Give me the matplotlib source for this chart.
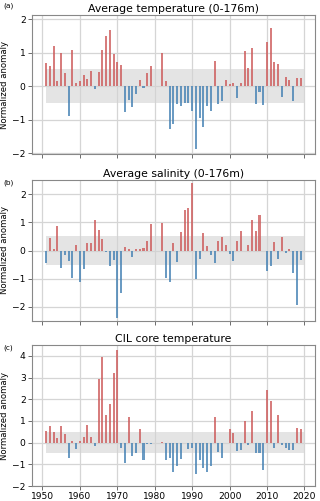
import matplotlib
matplotlib.use('Agg')
import matplotlib.pyplot as plt
import numpy as np

nan = np.nan
years = np.arange(1951, 2020)

temp = [0.68, 0.59, 1.19, 0.14, 0.99, 0.38, -0.90, 1.09, 0.08, 0.16,
        0.34, 0.21, 0.46, -0.09, 0.43, 1.07, 1.50, 1.67, 0.95, 0.72,
        0.63, -0.79, -0.43, -0.62, -0.23, 0.19, -0.05, 0.39, 0.60, nan,
        nan, 0.98, 0.16, -1.27, -1.13, -0.53, -0.59, -0.50, -0.51, -0.76,
        -1.89, -0.95, -1.23, -0.60, -0.75, 0.75, -0.53, -0.46, 0.18, 0.05,
        0.09, -0.36, 0.09, 1.05, 0.54, 1.14, -0.54, -0.17, -0.58, 1.32,
        1.72, 0.72, 0.66, -0.34, 0.28, 0.17, -0.45, 0.25, 0.23]

sal = [-0.46, 0.46, 0.07, 0.86, -0.61, -0.15, -0.36, -0.98, 0.20, -1.13,
       -0.66, 0.25, 0.26, 1.08, 0.71, 0.42, -0.05, -0.54, -0.35, -2.41,
       -1.51, 0.13, 0.04, -0.24, 0.05, 0.07, 0.10, 0.34, 0.94, nan,
       nan, 0.99, -0.97, -1.13, 0.27, -0.42, 0.67, 1.44, 1.52, 2.38,
       -1.00, -0.31, 0.62, 0.16, -0.15, -0.46, 0.32, 0.49, 0.18, -0.14,
       -0.39, 0.34, 0.69, -0.03, 0.21, 1.07, 0.68, 1.27, -0.02, -0.74,
       -0.56, 0.31, -0.29, 0.47, -0.08, 0.05, -0.80, -1.92, -0.33]

cil = [0.53, 0.79, 0.47, 0.23, 0.76, 0.40, -0.70, 0.06, -0.29, 0.08,
       0.26, 0.82, 0.24, -0.17, 2.95, 3.95, 1.28, 1.79, 3.22, 4.29,
       -0.23, -0.92, 1.19, -0.61, -0.49, 0.64, -0.79, -0.08, -0.06, nan,
       nan, 0.05, -0.81, -0.73, -1.37, -1.07, -0.76, nan, -0.30, -0.26,
       -1.45, -0.81, -1.18, -1.37, -1.08, 1.20, -0.41, -0.72, nan, 0.61,
       0.44, -0.38, -0.35, 0.99, -0.11, 1.45, -0.49, -0.49, -1.27, 2.41,
       1.94, -0.27, 1.28, -0.11, -0.23, -0.32, -0.32, 0.66, 0.61]

titles = ['Average temperature (0-176m)', 'Average salinity (0-176m)', 'CIL core temperature']
letters = ['(a)', '(b)', '(c)']
ylims = [(-2.03, 2.12), (-2.5, 2.5), (-1.95, 4.5)]
yticks = [[-2, -1, 0, 1, 2], [-2, -1, 0, 1, 2], [-2, -1, 0, 1, 2, 3, 4]]

fig = plt.figure(figsize=(3.2, 5.01), dpi=100)
boxes = [(0.10, 0.6926, 0.884, 0.2774),
         (0.10, 0.3593, 0.884, 0.2814),
         (0.10, 0.0299, 0.884, 0.2814)]
label_y = [0.988, 0.635, 0.306]

for i, series in enumerate([temp, sal, cil]):
    ax = fig.add_axes(boxes[i])
    vals = np.array(series, dtype=float)
    ok = ~np.isnan(vals)
    yy, vv = years[ok], vals[ok]
    pos = vv > 0
    ax.fill_between([1951, 2020], -0.5, 0.5, color='lightgray', alpha=0.6, lw=0, zorder=1)
    ax.bar(yy[pos], vv[pos], width=0.55, color='indianred', alpha=0.8, zorder=3)
    ax.bar(yy[~pos], vv[~pos], width=0.55, color='steelblue', alpha=0.8, zorder=3)
    ax.set_xlim(1947.2, 2022.8)
    ax.set_ylim(*ylims[i])
    ax.set_yticks(yticks[i])
    ax.set_xticks(np.arange(1950, 2021, 10))
    ax.grid(True, color='#d5d5d5', lw=0.9, zorder=0)
    ax.set_axisbelow(True)
    for s in ax.spines.values():
        s.set_color('#888888')
    ax.tick_params(labelsize=6.6, length=3, color='#555555', width=0.6, pad=1.5)
    if i < 2:
        ax.set_xticklabels([])
    ax.set_ylabel('Normalized anomaly', fontsize=6.1, labelpad=2)
    ax.set_title(titles[i], fontsize=7.8, pad=2.5)
    fig.text(0.01, label_y[i], letters[i], fontsize=5.3, va='center')

plt.savefig('out.png', dpi=100)
